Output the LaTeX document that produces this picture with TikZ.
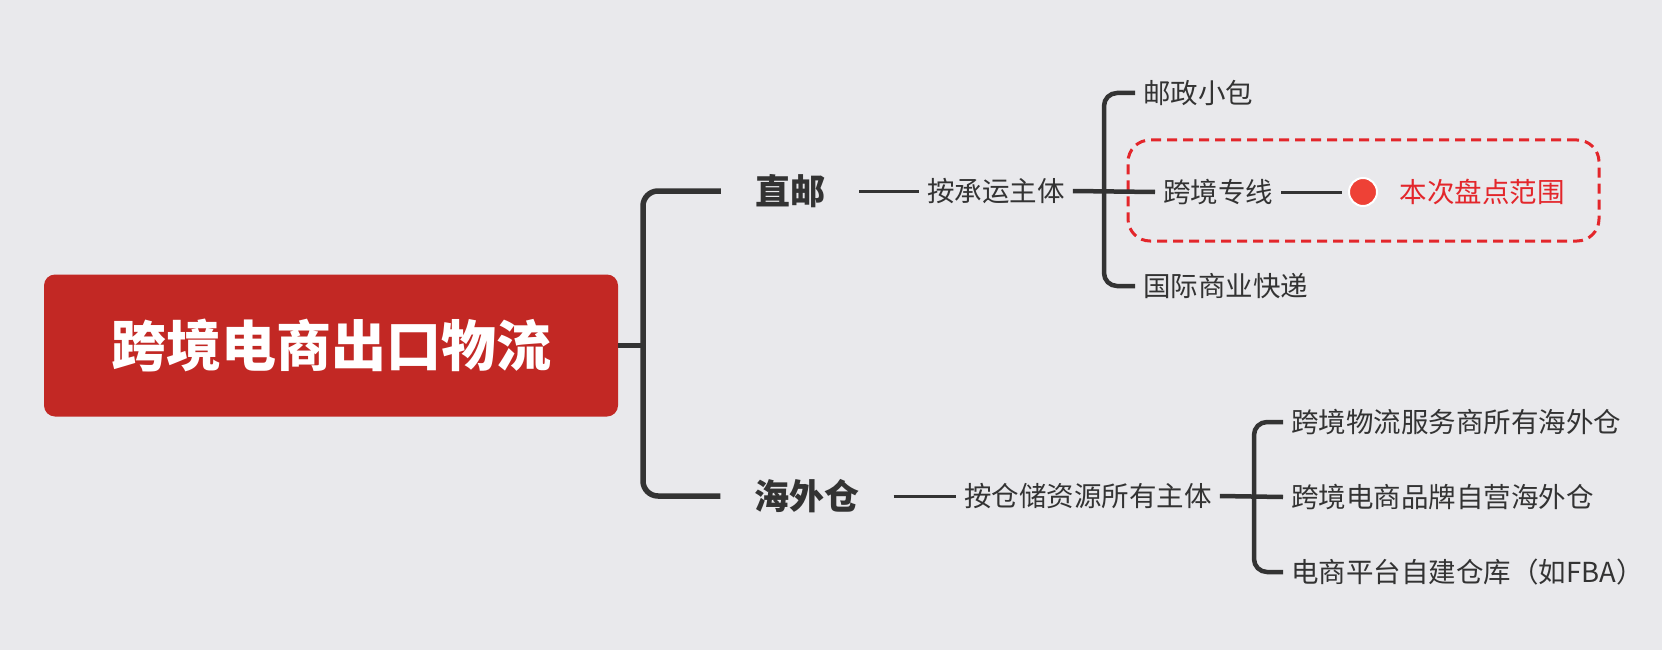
\documentclass[tikz,border=0pt]{standalone}
\usepackage{fontspec}
\setmainfont{Noto Sans CJK SC}
\definecolor{bg}{RGB}{233,233,236}
\definecolor{ink}{RGB}{51,51,51}
\definecolor{rootred}{RGB}{194,40,36}
\definecolor{accent}{RGB}{227,38,43}
\definecolor{dotred}{RGB}{238,65,54}
\begin{document}
\begin{tikzpicture}[x=1pt,y=-1pt,
  every node/.style={inner sep=0pt},
  root/.style={fill=rootred, rounded corners=11pt, minimum width=574pt, minimum height=142pt, text=white, font=\bfseries\fontsize{55}{60}\selectfont},
  lvl/.style={text=ink, font=\bfseries\fontsize{35}{42}\selectfont, inner xsep=34pt},
  txt/.style={text=ink, font=\fontsize{27.5}{32}\selectfont, inner xsep=8pt},
  leaf/.style={txt, anchor=west},
  brk/.style={draw=ink, line width=5.5pt, rounded corners=15pt},
  mid/.style={draw=ink, line width=4.5pt, rounded corners=13pt},
  thin/.style={draw=ink, line width=3pt},
  dbox/.style={draw=accent, line width=3pt, dash pattern=on 10pt off 6pt, rounded corners=22pt, minimum width=471pt, minimum height=101pt},
  dotstyle/.style={circle, fill=dotred, draw=white, line width=2pt, minimum size=28pt},
]
\fill[bg] (0,0) rectangle (1662,650);
\useasboundingbox (0,0) rectangle (1662,650);

\node[dbox] (box) at (1363.5,190.5) {};

\node[root] (root) at (331,345.5) {跨境电商出口物流};
\coordinate (j1) at (643,345.5);

\node[lvl] (zy) at (790,191) {直邮};
\node[lvl] (hw) at (807,496) {海外仓};

\node[txt] (cy) at (996,191) {按承运主体};
\coordinate (j2) at (1104,191);
\node[leaf] (yz) at (1135,93) {邮政小包};
\node[leaf] (zx) at (1155,192) {跨境专线};
\node[leaf] (gj) at (1135,286) {国际商业快递};
\node[dotstyle] (dot) at (1363,192) {};
\node[txt, text=accent] (fw) at (1482,192) {本次盘点范围};

\node[txt] (ck) at (1088,496) {按仓储资源所有主体};
\coordinate (j3) at (1254,496);
\node[leaf] (l1) at (1283,422) {跨境物流服务商所有海外仓};
\node[leaf] (l2) at (1283,497) {跨境电商品牌自营海外仓};
\node[leaf] (l3) at (1283,572) {电商平台自建仓库（如FBA）};

\draw[brk] (root.east) -- (j1);
\draw[brk] (zy.west) -- (j1 |- zy.west) -- (j1 |- hw.west) -- (hw.west);

\draw[thin] (zy.east) -- (cy.west);
\draw[mid] (cy.east) -- (zx.west);
\draw[mid] (yz.west) -- (j2 |- yz.west) -- (j2 |- gj.west) -- (gj.west);
\draw[thin, shorten >=6pt] (zx.east) -- (dot.west);

\draw[thin] (hw.east) -- (ck.west);
\draw[mid] (ck.east) -- (l2.west);
\draw[mid] (l1.west) -- (j3 |- l1.west) -- (j3 |- l3.west) -- (l3.west);
\end{tikzpicture}
\end{document}
